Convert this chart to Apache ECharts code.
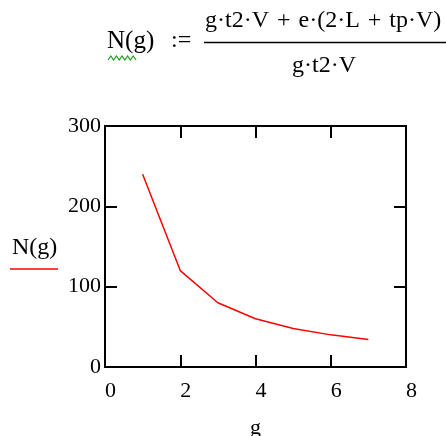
<!DOCTYPE html>
<html>
<head>
<meta charset="utf-8">
<script src="https://cdn.jsdelivr.net/npm/echarts@6/dist/echarts.min.js"></script>
<style>
  html, body { margin: 0; padding: 0; background: #fff; }
  #chart { width: 446px; height: 436px; }
</style>
</head>
<body>
<div id="chart"></div>
<script>
// values
var gValues = [1, 2, 3, 4, 5, 6, 7];
var nValues = [240, 120, 80, 60, 48, 40, 34.3];
var xTicks = [0, 2, 4, 6, 8];
var yTicks = [0, 100, 200, 300];

var serif = '"Liberation Serif", "DejaVu Serif", serif';
var sp = '\u2004';

var chart = echarts.init(document.getElementById('chart'));

var pts = [];
for (var i = 0; i < gValues.length; i++) {
    pts.push([gValues[i], nValues[i]]);
}

// the squiggle under N is just decoration
var squiggle = [];
for (var k = 0; k <= 10; k++) {
    squiggle.push([108 + k * 2.8, k % 2 ? 56 : 60]);
}

function tickStyle() {
    return {inside: true, length: 12, lineStyle: {color: '#000', width: 2}};
}

var option = {
    animation: false,
    backgroundColor: '#fff',
    grid: {
        left: 105,
        top: 126,
        right: 40,
        bottom: 69,
        outerBoundsMode: 'none',
        containLabel: false,
        show: true,
        borderColor: '#000',
        borderWidth: 2
    },
    xAxis: [{
        type: 'value',
        min: xTicks[0],
        max: xTicks[xTicks.length - 1],
        interval: 2,
        name: 'g',
        nameLocation: 'middle',
        nameGap: 50,
        nameTextStyle: {fontFamily: serif, fontSize: 22, color: '#000'},
        axisLine: {show: false, onZero: false},
        axisTick: tickStyle(),
        axisLabel: {fontFamily: serif, fontSize: 22, color: '#000', margin: 13, padding: [0, 0, 0, 11]},
        splitLine: {show: false}
    }, {
        type: 'value',
        position: 'top',
        min: xTicks[0],
        max: xTicks[xTicks.length - 1],
        interval: 2,
        axisLine: {show: false, onZero: false},
        axisTick: tickStyle(),
        axisLabel: {show: false},
        splitLine: {show: false}
    }],
    yAxis: [{
        type: 'value',
        min: yTicks[0],
        max: yTicks[yTicks.length - 1],
        interval: 100,
        axisLine: {show: false, onZero: false},
        axisTick: tickStyle(),
        axisLabel: {fontFamily: serif, fontSize: 22, color: '#000', margin: 4},
        splitLine: {show: false}
    }, {
        type: 'value',
        position: 'right',
        min: yTicks[0],
        max: yTicks[yTicks.length - 1],
        interval: 100,
        axisLine: {show: false, onZero: false},
        axisTick: tickStyle(),
        axisLabel: {show: false},
        splitLine: {show: false}
    }],
    series: [{
        name: 'N(g)',
        type: 'line',
        data: pts,
        showSymbol: false,
        lineStyle: {color: '#ff0000', width: 1.5}
    }],
    graphic: [
        // formula
        {type: 'text', left: 107, top: 29, style: {text: 'N(g)', font: '25px ' + serif, fill: '#000'}},
        {type: 'text', left: 171, top: 29, style: {text: ':=', font: '24px ' + serif, fill: '#000'}},
        {type: 'polyline', shape: {points: squiggle}, style: {stroke: '#1a9a1a', lineWidth: 1.2, fill: null}},
        {type: 'text', left: 205, top: 9, style: {text: 'g·t2·V' + sp + '+' + sp + 'e·(2·L' + sp + '+' + sp + 'tp·V)', font: '24px ' + serif, fill: '#000'}},
        {type: 'line', shape: {x1: 204, y1: 42.5, x2: 446, y2: 42.5}, style: {stroke: '#000', lineWidth: 1.5}},
        {type: 'text', left: 292, top: 54, style: {text: 'g·t2·V', font: '24px ' + serif, fill: '#000'}},
        // legend
        {type: 'text', left: 12, top: 236, style: {text: 'N(g)', font: '24px ' + serif, fill: '#000'}},
        {type: 'line', shape: {x1: 10, y1: 269, x2: 58, y2: 269}, style: {stroke: '#ff0000', lineWidth: 1.5}}
    ]
};

chart.setOption(option);
</script>
</body>
</html>
